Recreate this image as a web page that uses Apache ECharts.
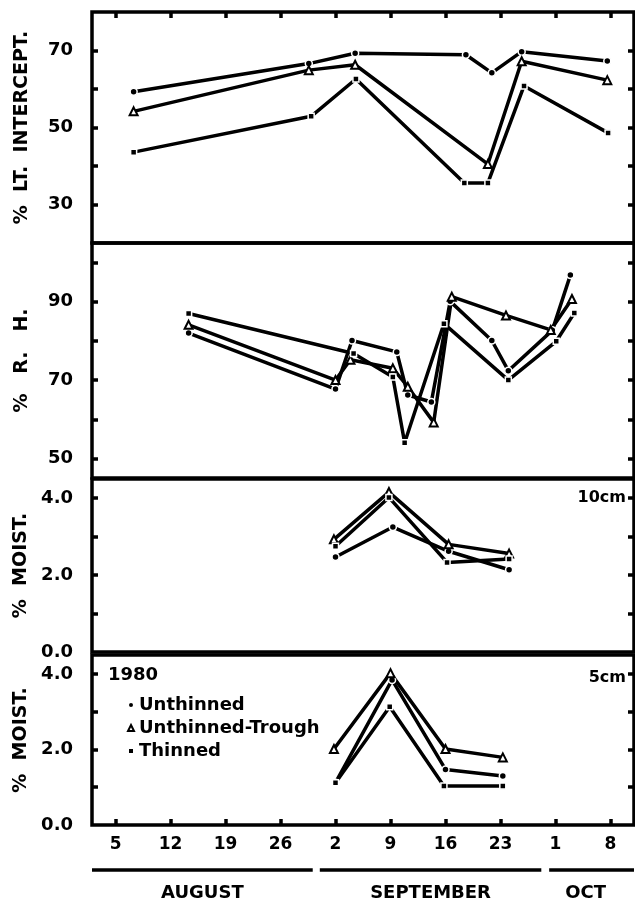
<!DOCTYPE html>
<html><head><meta charset="utf-8">
<script src="https://cdn.jsdelivr.net/npm/echarts@6/dist/echarts.min.js"></script>
<style>html,body{margin:0;padding:0;background:#fff}#c{width:635px;height:906px}</style>
</head><body><div id="c"></div>
<script>
// x values: days counted from August 5 (weekly ticks)
const seriesNames = ['Unthinned', 'Unthinned-Trough', 'Thinned'];
const dayTicks = [0, 7, 14, 21, 28, 35, 42, 49, 56, 63];
const dayLabels = ['5', '12', '19', '26', '2', '9', '16', '23', '1', '8'];
const monthNames = ['AUGUST', 'SEPTEMBER', 'OCT'];
const monthSpans = [[-3, 25.1], [26, 54.2], [55.2, 66]];

const ltUnthinned = [[2.3, 59.3], [24.6, 66.6], [30.5, 69.3], [44.6, 68.9], [47.9, 64.2], [51.7, 69.7], [62.6, 67.3]];
const ltTrough = [[2.3, 54.2], [24.6, 64.9], [30.5, 66.3], [47.4, 40.5], [51.7, 67.2], [62.6, 62.3]];
const ltThinned = [[2.3, 43.6], [24.9, 52.9], [30.6, 62.6], [44.4, 35.6], [47.4, 35.6], [52.0, 60.8], [62.7, 48.6]];

const rhUnthinned = [[9.3, 82.0], [28.0, 67.7], [30.1, 80.1], [35.8, 77.2], [37.2, 66.2], [40.2, 64.4], [42.6, 90.1], [47.9, 80.1], [50.0, 72.4], [55.6, 82.7], [57.9, 96.8]];
const rhTrough = [[9.3, 84.1], [28.0, 70.0], [29.9, 75.2], [35.3, 73.0], [37.2, 68.3], [40.5, 59.2], [42.8, 91.3], [49.7, 86.5], [55.4, 82.8], [58.1, 90.7]];
const rhThinned = [[9.3, 87.0], [30.3, 76.8], [35.3, 70.8], [36.8, 54.0], [41.8, 84.4], [50.0, 70.0], [56.1, 79.9], [58.4, 87.1]];

const m10Unthinned = [[28.0, 2.47], [35.3, 3.25], [42.4, 2.62], [50.1, 2.14]];
const m10Trough = [[27.8, 2.93], [34.8, 4.16], [42.4, 2.80], [50.1, 2.56]];
const m10Thinned = [[28.0, 2.75], [34.8, 4.02], [42.2, 2.33], [50.1, 2.42]];

const m5Unthinned = [[28.0, 1.12], [35.2, 3.84], [42.0, 1.47], [49.3, 1.30]];
const m5Trough = [[27.8, 2.01], [35.0, 4.02], [42.0, 2.01], [49.3, 1.79]];
const m5Thinned = [[28.0, 1.12], [34.9, 3.13], [41.8, 1.03], [49.3, 1.03]];

const FONT = 'DejaVu Sans';
const chart = echarts.init(document.getElementById('c'), null, { renderer: 'canvas' });

const grids = [
  { left: 92, right: 1, top: 12, height: 231 },
  { left: 92, right: 1, top: 243, height: 235 },
  { left: 92, right: 1, top: 479, height: 173 },
  { left: 92, right: 1, top: 655, height: 170 }
].map(g => Object.assign({ show: true, borderColor: '#000', borderWidth: 3.5, backgroundColor: 'transparent' }, g));

const xAxes = grids.map((g, i) => ({
  type: 'value', gridIndex: i, min: -3, max: 66,
  position: i === 0 ? 'top' : 'bottom',
  splitLine: { show: false },
  axisLine: { show: false, onZero: false },
  axisTick: {
    show: i === 0 || i === 3, inside: true, length: 6,
    lineStyle: { color: '#000', width: 3.5 },
    customValues: dayTicks
  },
  axisLabel: {
    show: i === 3, margin: 11, color: '#000', fontFamily: FONT, fontWeight: 'bold', fontSize: 17,
    customValues: dayTicks,
    formatter: v => dayLabels[dayTicks.indexOf(v)] || ''
  }
}));

const yDefs = [
  { min: 20, max: 80, ticks: [30, 40, 50, 60, 70], labels: [30, 50, 70], name: '%  LT.  INTERCEPT.', fmt: v => String(v) },
  { min: 45, max: 105, ticks: [50, 60, 70, 80, 90, 100], labels: [50, 70, 90], name: '%   R.   H.', fmt: v => String(v) },
  { min: 0, max: 4.5, ticks: [1, 2, 3, 4], labels: [0, 2, 4], name: '%  MOIST.', fmt: v => v.toFixed(1) },
  { min: 0, max: 4.5, ticks: [1, 2, 3, 4], labels: [0, 2, 4], name: '%  MOIST.', fmt: v => v.toFixed(1) }
];

const yAxes = [];
yDefs.forEach((d, i) => {
  yAxes.push({
    type: 'value', gridIndex: i, min: d.min, max: d.max, position: 'left',
    splitLine: { show: false }, axisLine: { show: false, onZero: false },
    axisTick: { show: true, inside: true, length: 6, lineStyle: { color: '#000', width: 3.5 }, customValues: d.ticks },
    axisLabel: { show: true, margin: 19, color: '#000', fontFamily: FONT, fontWeight: 'bold', fontSize: 18, customValues: d.labels, formatter: d.fmt },
    name: d.name, nameLocation: 'middle', nameRotate: 90, nameGap: 60,
    nameTextStyle: { color: '#000', fontFamily: FONT, fontWeight: 'bold', fontSize: 19 }
  });
  yAxes.push({
    type: 'value', gridIndex: i, min: d.min, max: d.max, position: 'right',
    splitLine: { show: false }, axisLine: { show: false, onZero: false },
    axisTick: { show: true, inside: true, length: 6, lineStyle: { color: '#000', width: 3.5 }, customValues: d.ticks },
    axisLabel: { show: false }
  });
});

const symbols = ['circle', 'emptyTriangle', 'rect'];
const symSizes = [7, 8, 6];
const panelData = [
  [ltUnthinned, ltTrough, ltThinned],
  [rhUnthinned, rhTrough, rhThinned],
  [m10Unthinned, m10Trough, m10Thinned],
  [m5Unthinned, m5Trough, m5Thinned]
];
const series = [];
panelData.forEach((arr, p) => {
  arr.forEach((data, s) => {
    series.push({
      type: 'line', name: seriesNames[s], xAxisIndex: p, yAxisIndex: p * 2,
      data: data, symbol: symbols[s], symbolSize: symSizes[s], showSymbol: true,
      lineStyle: { color: '#000', width: 3.5 },
      itemStyle: s === 1 ? { color: '#000', borderWidth: 1.2 } : { color: '#000', borderColor: '#fff', borderWidth: 1.5 },
      emphasis: { disabled: true }, animation: false, z: 3
    });
  });
});

chart.setOption({
  animation: false,
  backgroundColor: '#fff',
  grid: grids,
  xAxis: xAxes,
  yAxis: yAxes,
  legend: {
    orient: 'vertical', left: 122, top: 691, itemWidth: 6, itemHeight: 6, itemGap: 5,
    selectedMode: false,
    textStyle: { color: '#000', fontFamily: FONT, fontWeight: 'bold', fontSize: 18 },
    data: [
      { name: 'Unthinned', icon: 'circle' },
      { name: 'Unthinned-Trough', icon: 'emptyTriangle' },
      { name: 'Thinned', icon: 'rect' }
    ]
  },
  series: series
});

// decorations: panel labels, month underlines and names
const gfx = [];
gfx.push({ type: 'text', left: 108, top: 666, style: { text: '1980', fill: '#000', font: 'bold 18px "' + FONT + '"' } });
gfx.push({ type: 'text', right: 9, top: 490, style: { text: '10cm', fill: '#000', font: 'bold 16px "' + FONT + '"' } });
gfx.push({ type: 'text', right: 9, top: 670, style: { text: '5cm', fill: '#000', font: 'bold 16px "' + FONT + '"' } });
monthSpans.forEach((sp, i) => {
  const x1 = Math.max(chart.convertToPixel({ xAxisIndex: 3 }, sp[0]), 90);
  const x2 = Math.min(chart.convertToPixel({ xAxisIndex: 3 }, sp[1]), 635);
  gfx.push({ type: 'line', shape: { x1: x1, y1: 870, x2: x2, y2: 870 }, style: { stroke: '#000', lineWidth: 3.5 } });
  gfx.push({ type: 'text', x: (x1 + x2) / 2 + (i === 2 ? -6 : 0), y: 893,
    style: { text: monthNames[i], fill: '#000', font: 'bold 18px "' + FONT + '"', textAlign: 'center', textVerticalAlign: 'middle' } });
});
chart.setOption({ graphic: gfx });
</script>
</body></html>
